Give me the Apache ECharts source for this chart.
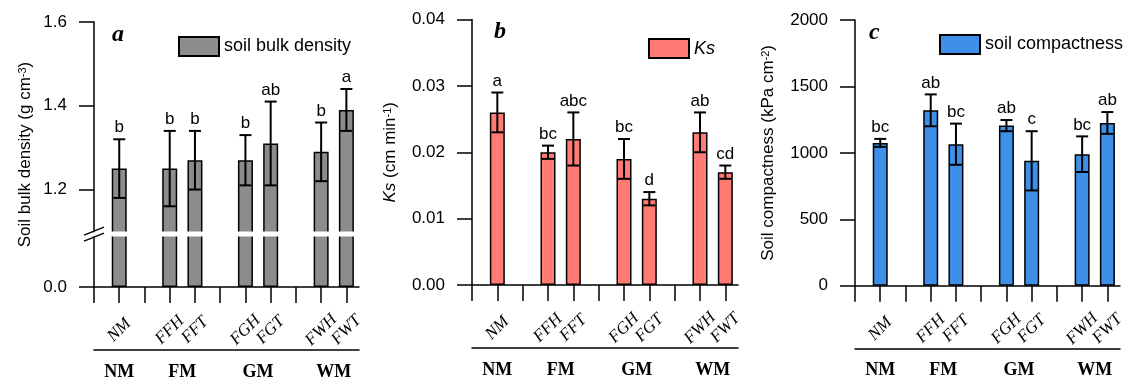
<!DOCTYPE html>
<html>
<head>
<meta charset="utf-8">
<script src="https://cdn.jsdelivr.net/npm/echarts@6.0.0/dist/echarts.min.js"></script>
<style>
  html, body { margin: 0; padding: 0; background: #fff; }
  #main { width: 1134px; height: 386px; }
</style>
</head>
<body>
<div id="main"></div>
<script>
// treatments and their management groups
var treatments = ['NM', 'FFH', 'FFT', 'FGH', 'FGT', 'FWH', 'FWT'];
var groupOf = ['NM', 'FM', 'FM', 'GM', 'GM', 'WM', 'WM'];
var groups = ['NM', 'FM', 'GM', 'WM'];

// a: soil bulk density (g cm-3)
var bulkDensity = [1.25, 1.25, 1.27, 1.27, 1.31, 1.29, 1.39];
var bulkDensitySd = [0.07, 0.09, 0.07, 0.06, 0.10, 0.07, 0.05];
var bulkDensityLetters = ['b', 'b', 'b', 'b', 'ab', 'b', 'a'];

// b: Ks (cm min-1)
var ks = [0.026, 0.020, 0.022, 0.019, 0.013, 0.023, 0.017];
var ksSd = [0.003, 0.001, 0.004, 0.003, 0.001, 0.003, 0.001];
var ksLetters = ['a', 'bc', 'abc', 'bc', 'd', 'ab', 'cd'];

// c: soil compactness (kPa cm-2)
var compactness = [1075, 1320, 1065, 1205, 940, 990, 1225];
var compactnessSd = [30, 120, 155, 42, 223, 134, 82];
var compactnessLetters = ['bc', 'ab', 'bc', 'ab', 'c', 'bc', 'ab'];

var SANS = 'Liberation Sans';
var SERIF = 'Liberation Serif';

// slot positions on the x axis: an empty slot before every group
var slot = [];
var p = 0, prev = null;
treatments.forEach(function (t, i) {
  if (prev !== null && groupOf[i] !== prev) p += 1;
  prev = groupOf[i];
  p += 1;
  slot.push(p);
});
var tickVals = [];
for (var t = 0; t <= p; t++) tickVals.push(t);
var groupCenter = groups.map(function (g) {
  var s = slot.filter(function (v, i) { return groupOf[i] === g; });
  return s.reduce(function (a, b) { return a + b; }, 0) / s.length;
});

function nameAt(list, names) {
  return function (v) {
    for (var i = 0; i < list.length; i++) {
      if (Math.abs(list[i] - v) < 0.01) return names[i];
    }
    return '';
  };
}

var panels = [
  { tag: 'a', name: 'soil bulk density', values: bulkDensity, sd: bulkDensitySd, letters: bulkDensityLetters,
    color: '#8c8c8c', grid: { left: 94, top: 22, width: 265, height: 265 },
    legend: { left: 173, top: 31 }, title: { left: 112, top: 23 } },
  { tag: 'b', name: 'Ks', values: ks, sd: ksSd, letters: ksLetters,
    color: '#ff7b74', grid: { left: 472, top: 19.5, width: 266, height: 265.5 },
    legend: { left: 643, top: 33 }, title: { left: 494, top: 20 } },
  { tag: 'c', name: 'soil compactness', values: compactness, sd: compactnessSd, letters: compactnessLetters,
    color: '#3e8fe7', grid: { left: 855, top: 20, width: 265, height: 265.7 },
    legend: { left: 934, top: 29 }, title: { left: 869, top: 21 } }
];

var nameRich = {
  sup: { fontSize: 11, fontFamily: SANS, verticalAlign: 'top', lineHeight: 12, padding: [0, 0, 8, 0] },
  i: { fontSize: 17, fontFamily: SANS, fontStyle: 'italic' }
};

var yAxes = [
  {
    gridIndex: 0, type: 'value', min: 0, max: 1.6, interval: 0.2,
    breaks: [{ start: 0.12, end: 1.1, gap: '2%' }],
    breakArea: {
      show: true, expandOnClick: false, zigzagAmplitude: 0, zigzagZ: 100,
      itemStyle: { color: '#fff', borderWidth: 0, opacity: 1 }
    },
    axisTick: { customValues: [0, 1.2, 1.4, 1.6] },
    axisLabel: { customValues: [0, 1.2, 1.4, 1.6], formatter: function (v) { return v.toFixed(1); } },
    name: 'Soil bulk density (g cm{sup|-3})', nameGap: 60
  },
  {
    gridIndex: 1, type: 'value', min: 0, max: 0.04, interval: 0.01,
    axisLabel: { formatter: function (v) { return v.toFixed(2); } },
    name: '{i|Ks} (cm min{sup|-1})', nameGap: 73
  },
  {
    gridIndex: 2, type: 'value', min: 0, max: 2000, interval: 500,
    axisLabel: { formatter: function (v) { return String(v); } },
    name: 'Soil compactness (kPa cm{sup|-2})', nameGap: 78
  }
].map(function (ax) {
  return echarts.util.merge({
    nameLocation: 'middle', nameRotate: 90,
    nameTextStyle: { fontSize: 17, fontFamily: SANS, color: '#000', rich: nameRich },
    axisLine: { show: true, lineStyle: { color: '#000', width: 1.5 } },
    axisTick: { show: true, length: 15, lineStyle: { color: '#000', width: 1.5 } },
    axisLabel: { fontSize: 17, fontFamily: SANS, color: '#000', margin: 27 },
    splitLine: { show: false }
  }, ax, true);
});

var xAxes = [];
panels.forEach(function (pn, k) {
  xAxes.push({
    gridIndex: k, type: 'value', min: 0, max: p + 0.5,
    axisLine: { onZero: false, lineStyle: { color: '#000', width: 1.5 } },
    axisTick: { customValues: tickVals, length: 16, lineStyle: { color: '#000', width: 1.5 } },
    axisLabel: {
      customValues: slot, formatter: nameAt(slot, treatments),
      rotate: 45, align: 'center', verticalAlign: 'middle', margin: 43,
      fontFamily: SERIF, fontStyle: 'italic', fontSize: 17, color: '#000'
    },
    splitLine: { show: false }
  });
  xAxes.push({
    gridIndex: k, type: 'value', min: 0, max: p + 0.5, position: 'bottom', offset: 63,
    axisLine: { show: true, onZero: false, lineStyle: { color: '#000', width: 1.5 } },
    axisTick: { show: false },
    axisLabel: {
      customValues: groupCenter, formatter: nameAt(groupCenter, groups), margin: 13,
      fontFamily: SERIF, fontWeight: 'bold', fontSize: 18, color: '#000'
    },
    splitLine: { show: false }
  });
});

var series = [];
panels.forEach(function (pn, k) {
  series.push({
    type: 'bar', name: pn.name, xAxisIndex: k * 2, yAxisIndex: k, barWidth: 15,
    data: pn.values.map(function (v, i) { return [slot[i], v]; }),
    itemStyle: { color: pn.color, borderColor: '#000', borderWidth: 1.5 }
  });
  series.push({
    type: 'custom', xAxisIndex: k * 2, yAxisIndex: k, z: 10,
    data: pn.values.map(function (v, i) { return [slot[i], v - pn.sd[i], v + pn.sd[i]]; }),
    renderItem: function (params, api) {
      var x = api.value(0);
      var lo = api.coord([x, api.value(1)]);
      var hi = api.coord([x, api.value(2)]);
      var hw = 6;
      var st = { stroke: '#000', lineWidth: 2 };
      return {
        type: 'group',
        children: [
          { type: 'line', shape: { x1: lo[0], y1: lo[1], x2: hi[0], y2: hi[1] }, style: st },
          { type: 'line', shape: { x1: lo[0] - hw, y1: lo[1], x2: lo[0] + hw, y2: lo[1] }, style: st },
          { type: 'line', shape: { x1: hi[0] - hw, y1: hi[1], x2: hi[0] + hw, y2: hi[1] }, style: st },
          { type: 'text', style: {
              text: pn.letters[params.dataIndex], x: hi[0], y: hi[1] - 3,
              textAlign: 'center', textVerticalAlign: 'bottom',
              fontSize: 17, fontFamily: SANS, fill: '#000' } }
        ]
      };
    }
  });
});

var chart = echarts.init(document.getElementById('main'));
chart.setOption({
  animation: false,
  backgroundColor: '#fff',
  title: panels.map(function (pn) {
    return { text: pn.tag, left: pn.title.left, top: pn.title.top, padding: 0,
      textStyle: { fontFamily: SERIF, fontStyle: 'italic', fontWeight: 'bold', fontSize: 24, color: '#000' } };
  }),
  legend: panels.map(function (pn, k) {
    return { data: [pn.name], left: pn.legend.left, top: pn.legend.top, icon: 'rect',
      itemWidth: 40, itemHeight: 19, itemGap: 0, selectedMode: false,
      textStyle: { fontSize: 18, fontFamily: SANS, color: '#000', fontStyle: k === 1 ? 'italic' : 'normal' } };
  }),
  grid: panels.map(function (pn) { return pn.grid; }),
  xAxis: xAxes,
  yAxis: yAxes,
  series: series
});

// "//" marks where the bulk-density axis is broken
var yLo = chart.convertToPixel({ yAxisIndex: 0 }, 0.12);
var yHi = chart.convertToPixel({ yAxisIndex: 0 }, 1.1);
var x0 = chart.convertToPixel({ xAxisIndex: 0 }, 0);
var yMid = (yLo + yHi) / 2;
chart.setOption({
  graphic: [-3, 3].map(function (d) {
    return { type: 'line', z: 200, shape: { x1: x0 - 10, y1: yMid + d + 4, x2: x0 + 10, y2: yMid + d - 4 },
      style: { stroke: '#000', lineWidth: 1.5 } };
  })
});
</script>
</body>
</html>
